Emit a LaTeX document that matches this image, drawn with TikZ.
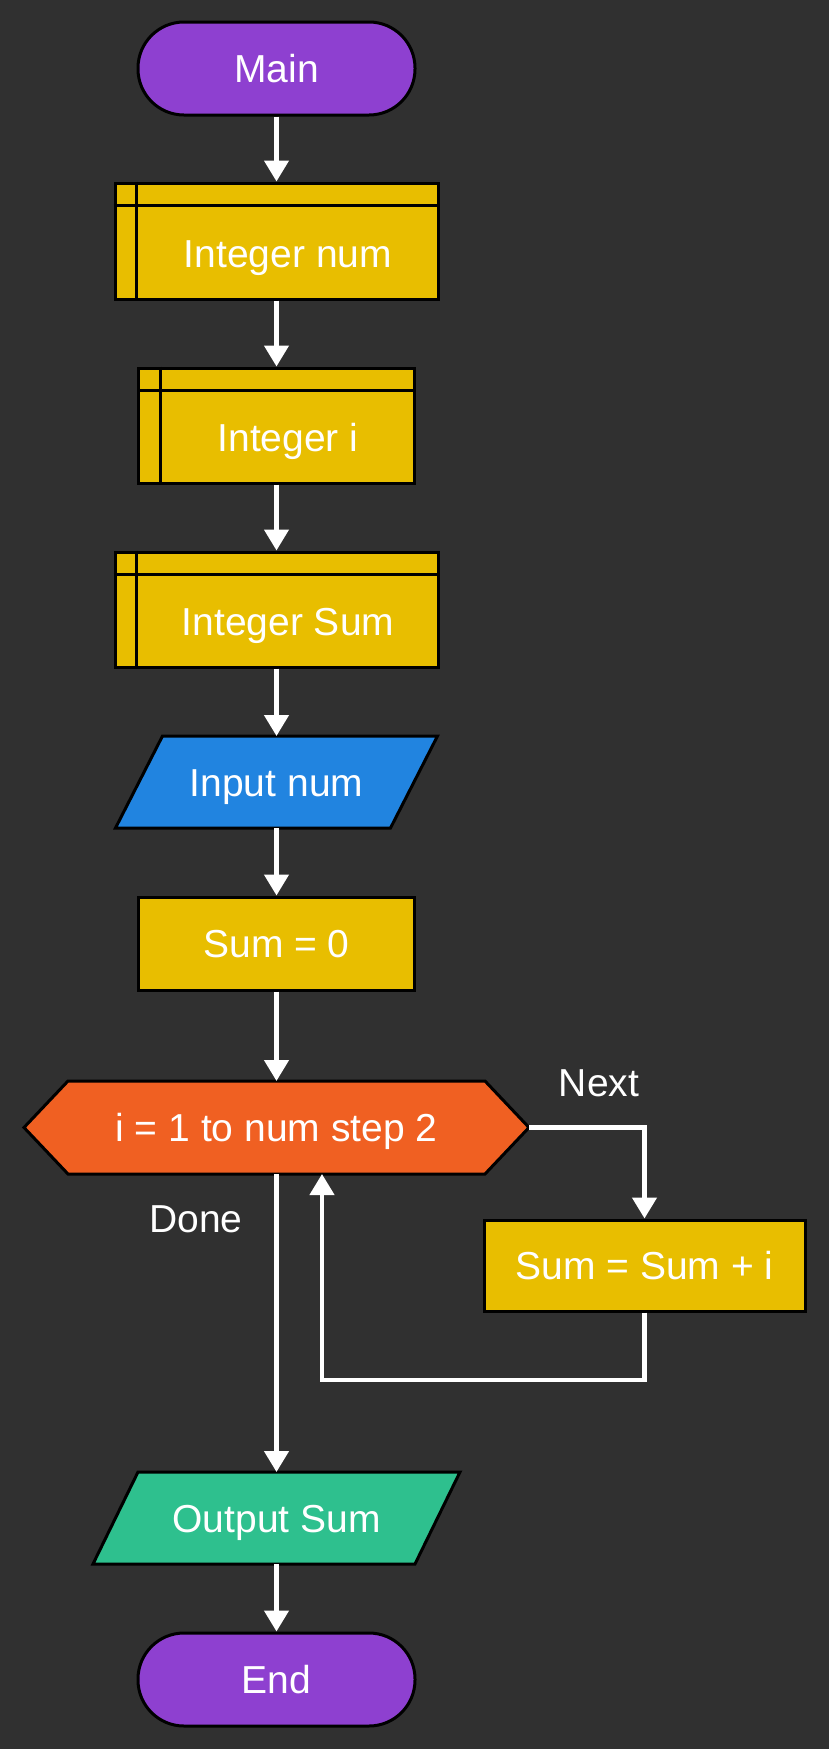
\documentclass[tikz,border=0pt]{standalone}
\usepackage{fontspec}
\setmainfont{Liberation Sans}
\usetikzlibrary{arrows.meta,backgrounds,calc}
\definecolor{bgc}{HTML}{303030}
\definecolor{purp}{HTML}{8E40D0}
\definecolor{yel}{HTML}{E8BE00}
\definecolor{blu}{HTML}{2184E0}
\definecolor{ora}{HTML}{F06022}
\definecolor{grn}{HTML}{2EC08E}
\begin{document}
\begin{tikzpicture}[x=1pt,y=1pt,
  txt/.style={text=white,font=\fontsize{39}{46}\selectfont,text height=28pt,text depth=0pt},
  term/.style={txt,draw=black,line width=3pt,fill=purp,rounded corners=46pt,minimum width=277pt,minimum height=93pt,inner sep=0pt},
  proc/.style={txt,draw=black,line width=3pt,fill=yel,inner sep=0pt},
  decl/.style={draw=black,line width=3pt,fill=yel,inner sep=0pt},
  shp/.style={txt,inner sep=0pt,outer sep=0pt},
  border/.style={draw=black,line width=3pt,line join=miter},
  arr/.style={draw=white,line width=4.5pt,-{Triangle[width=24pt,length=21pt]}},
  wire/.style={draw=white,line width=4.5pt}]
\useasboundingbox (0,0) rectangle (829,-1749);

\node[term] (main) at (276.5,-68.5) {Main};

\node[decl,minimum width=323pt,minimum height=116pt] (intnum) at (276.5,-241) {};
\draw[border] ($(intnum.north west)+(23,0)$) -- ($(intnum.south west)+(23,0)$);
\draw[border] ($(intnum.north west)+(0,-24)$) -- ($(intnum.north east)+(0,-24)$);
\node[shp] (intnumt) at ($(intnum.center)+(11.5,-12)$) {Integer num};

\node[decl,minimum width=276pt,minimum height=115pt] (inti) at (276.5,-425.5) {};
\draw[border] ($(inti.north west)+(23,0)$) -- ($(inti.south west)+(23,0)$);
\draw[border] ($(inti.north west)+(0,-24)$) -- ($(inti.north east)+(0,-24)$);
\node[shp] (intit) at ($(inti.center)+(11.5,-12)$) {Integer i};

\node[decl,minimum width=323pt,minimum height=115pt] (intsum) at (276.5,-609.5) {};
\draw[border] ($(intsum.north west)+(23,0)$) -- ($(intsum.south west)+(23,0)$);
\draw[border] ($(intsum.north west)+(0,-24)$) -- ($(intsum.north east)+(0,-24)$);
\node[shp] (intsumt) at ($(intsum.center)+(11.5,-12)$) {Integer Sum};

\node[shp,minimum width=322pt,minimum height=92pt] (input) at (276.5,-782) {Input num};

\node[proc,minimum width=276pt,minimum height=93pt] (sum0) at (276.5,-943.5) {Sum = 0};

\node[shp,minimum width=505pt,minimum height=93pt] (hex) at (276.5,-1127.5) {i = 1 to num step 2};

\node[proc,minimum width=321pt,minimum height=91pt] (sumadd) at (644.5,-1265.5) {Sum = Sum + i};

\node[shp,minimum width=367pt,minimum height=92pt] (output) at (276.5,-1518) {Output Sum};

\node[term] (end) at (276.5,-1679.5) {End};

\node[txt] (next) at (599,-1082) {Next};
\node[txt] (done) at (196,-1218) {Done};

\coordinate (loopb) at (322,-1380);

\begin{scope}[on background layer]
  \fill[bgc] (0,0) rectangle (829,-1749);
  \path[border,fill=blu] (input.south west) -- ($(input.north west)+(47,0)$) -- (input.north east) -- ($(input.south east)+(-47,0)$) -- cycle;
  \path[border,fill=ora] (hex.west) -- ($(hex.north west)+(44,0)$) -- ($(hex.north east)+(-44,0)$) -- (hex.east) -- ($(hex.south east)+(-44,0)$) -- ($(hex.south west)+(44,0)$) -- cycle;
  \path[border,fill=grn] (output.south west) -- ($(output.north west)+(45,0)$) -- (output.north east) -- ($(output.south east)+(-45,0)$) -- cycle;
\end{scope}

\draw[arr] (main) -- (intnum);
\draw[arr] (intnum) -- (inti);
\draw[arr] (inti) -- (intsum);
\draw[arr] (intsum) -- (input);
\draw[arr] (input) -- (sum0);
\draw[arr] (sum0) -- (hex);
\draw[arr] (hex.east) -| (sumadd.north);
\draw[arr] (sumadd.south) |- (loopb) -- (loopb |- hex.south);
\draw[arr] (hex.south) -- (output.north);
\draw[arr] (output) -- (end);
\end{tikzpicture}
\end{document}
